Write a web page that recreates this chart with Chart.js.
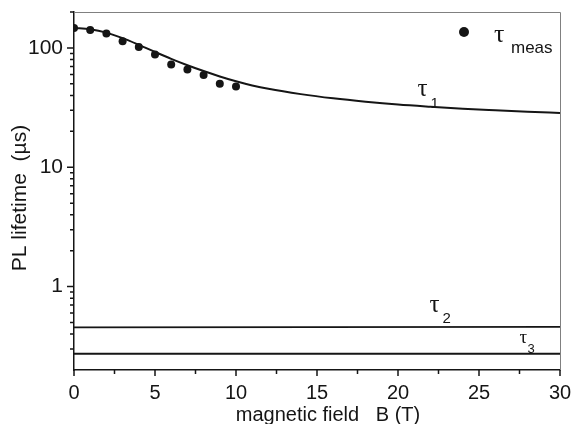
<!DOCTYPE html>
<html>
<head>
<meta charset="utf-8">
<script src="https://cdn.jsdelivr.net/npm/chart.js@4"></script>
<style>
  html, body { margin: 0; padding: 0; background: #fff; }
  #wrap { width: 574px; height: 424px; position: relative; }
</style>
</head>
<body>
<div id="wrap"><canvas id="plot"></canvas></div>
<script>
// PL lifetime vs magnetic field

const fieldMeas = [0, 1, 2, 3, 4, 5, 6, 7, 8, 9, 10];
const tauMeas = [147, 141.5, 131.8, 113.6, 102, 87.9, 72.5, 65.8, 59.4, 50.2, 47.4];

const fieldFit = [0, 1, 2, 3, 4, 5, 6, 7, 8, 9, 10, 11, 12, 14, 16, 18, 20, 22, 24, 26, 28, 30];
const tau1Fit = [147.1, 143.4, 134.4, 120.8, 106.2, 92.6, 81.0, 71.6, 64.0, 57.7, 52.6, 48.5,
                 45.4, 41.0, 37.8, 35.4, 33.5, 32.1, 30.9, 30.0, 29.2, 28.5];

const fieldFlat = [0, 30];
const tau2 = [0.455, 0.46];
const tau3 = [0.273, 0.273];

const xMajor = [0, 5, 10, 15, 20, 25, 30];
const xMinor = [2.5, 7.5, 12.5, 17.5, 22.5, 27.5];
const yMajor = [1, 10, 100];
const yMinor = [0.3, 0.4, 0.5, 0.6, 0.7, 0.8, 0.9, 2, 3, 4, 5, 6, 7, 8, 9,
                20, 30, 40, 50, 60, 70, 80, 90, 200];

const INK = "#151515";
const SANS = "'Liberation Sans', Arial, sans-serif";
const SERIF = "'Liberation Serif', 'Times New Roman', serif";

const pts = (xs, ys) => xs.map((x, i) => ({ x, y: ys[i] }));

// ticks, frame, axis titles and labels drawn on top of the chart
const decorations = {
  id: "decorations",
  afterDraw(chart) {
    const { ctx, chartArea: a, scales: { x, y } } = chart;
    ctx.save();

    // top and right frame
    ctx.strokeStyle = "#808080";
    ctx.lineWidth = 1;
    ctx.beginPath();
    ctx.moveTo(a.left, a.top + 0.5);
    ctx.lineTo(a.right + 0.5, a.top + 0.5);
    ctx.lineTo(a.right + 0.5, a.bottom);
    ctx.stroke();

    // outward ticks
    ctx.strokeStyle = INK;
    ctx.lineWidth = 1.5;
    ctx.beginPath();
    xMajor.forEach(v => { const p = x.getPixelForValue(v); ctx.moveTo(p, a.bottom); ctx.lineTo(p, a.bottom + 6); });
    xMinor.forEach(v => { const p = x.getPixelForValue(v); ctx.moveTo(p, a.bottom); ctx.lineTo(p, a.bottom + 4); });
    yMajor.forEach(v => { const p = y.getPixelForValue(v); ctx.moveTo(a.left, p); ctx.lineTo(a.left - 7, p); });
    yMinor.forEach(v => { const p = y.getPixelForValue(v); ctx.moveTo(a.left, p); ctx.lineTo(a.left - 4, p); });
    ctx.stroke();

    // axis titles
    ctx.fillStyle = INK;
    ctx.font = "20px " + SANS;
    ctx.textAlign = "center";
    ctx.textBaseline = "alphabetic";
    ctx.fillText("magnetic field   B (T)", 328, 421);
    ctx.save();
    ctx.translate(26, 198);
    ctx.rotate(-Math.PI / 2);
    ctx.font = "21px " + SANS;
    ctx.fillText("PL lifetime  (\u00b5s)", 0, 0);
    ctx.restore();

    // curve labels
    const tauLabel = (bx, by, size, sub, subSize, dx, dy) => {
      ctx.textAlign = "left";
      ctx.font = size + "px " + SERIF;
      ctx.fillText("\u03c4", bx, by);
      ctx.font = subSize + "px " + SANS;
      ctx.fillText(sub, bx + dx, by + dy);
    };
    tauLabel(x.getPixelForValue(21.2), 96, 25, "1", 15, 13, 12);
    tauLabel(x.getPixelForValue(21.95), 312, 25, "2", 15, 13, 11);
    tauLabel(x.getPixelForValue(27.5), 343, 19, "3", 13, 8, 10);

    // legend
    ctx.beginPath();
    ctx.arc(464, 32, 5, 0, Math.PI * 2);
    ctx.fill();
    tauLabel(494, 42, 26, "meas", 17, 17, 11);

    ctx.restore();
  }
};

new Chart(document.getElementById("plot"), {
  type: "scatter",
  data: {
    datasets: [
      {
        label: "tau_meas",
        data: pts(fieldMeas, tauMeas),
        pointRadius: 4,
        pointBackgroundColor: INK,
        pointBorderWidth: 0,
        showLine: false
      },
      {
        label: "tau_1",
        data: pts(fieldFit, tau1Fit),
        showLine: true,
        borderColor: INK,
        borderWidth: 2,
        pointRadius: 0,
        cubicInterpolationMode: "monotone"
      },
      {
        label: "tau_2",
        data: pts(fieldFlat, tau2),
        showLine: true,
        borderColor: INK,
        borderWidth: 1.8,
        pointRadius: 0
      },
      {
        label: "tau_3",
        data: pts(fieldFlat, tau3),
        showLine: true,
        borderColor: INK,
        borderWidth: 2,
        pointRadius: 0
      }
    ]
  },
  options: {
    responsive: true,
    maintainAspectRatio: false,
    animation: false,
    layout: { padding: { top: 12, right: 14, left: 0, bottom: 0 } },
    plugins: { legend: { display: false }, tooltip: { enabled: false } },
    scales: {
      x: {
        type: "linear",
        min: 0,
        max: 30,
        afterBuildTicks: s => { s.ticks = xMajor.map(v => ({ value: v })); },
        afterFit: s => { s.height = 54; s.paddingLeft = 0; s.paddingRight = 0; },
        grid: { display: false },
        border: { display: true, color: INK, width: 1.5 },
        ticks: { color: INK, font: { size: 20, family: SANS }, padding: 3, maxRotation: 0 }
      },
      y: {
        type: "logarithmic",
        min: 0.2,
        max: 200,
        afterBuildTicks: s => { s.ticks = yMajor.map(v => ({ value: v })); },
        afterFit: s => { s.width = 74; s.paddingTop = 0; s.paddingBottom = 0; },
        grid: { display: false },
        border: { display: true, color: INK, width: 1.5 },
        ticks: { color: INK, font: { size: 21, family: SANS }, padding: 3, callback: v => String(v) }
      }
    }
  },
  plugins: [decorations]
});
</script>
</body>
</html>
